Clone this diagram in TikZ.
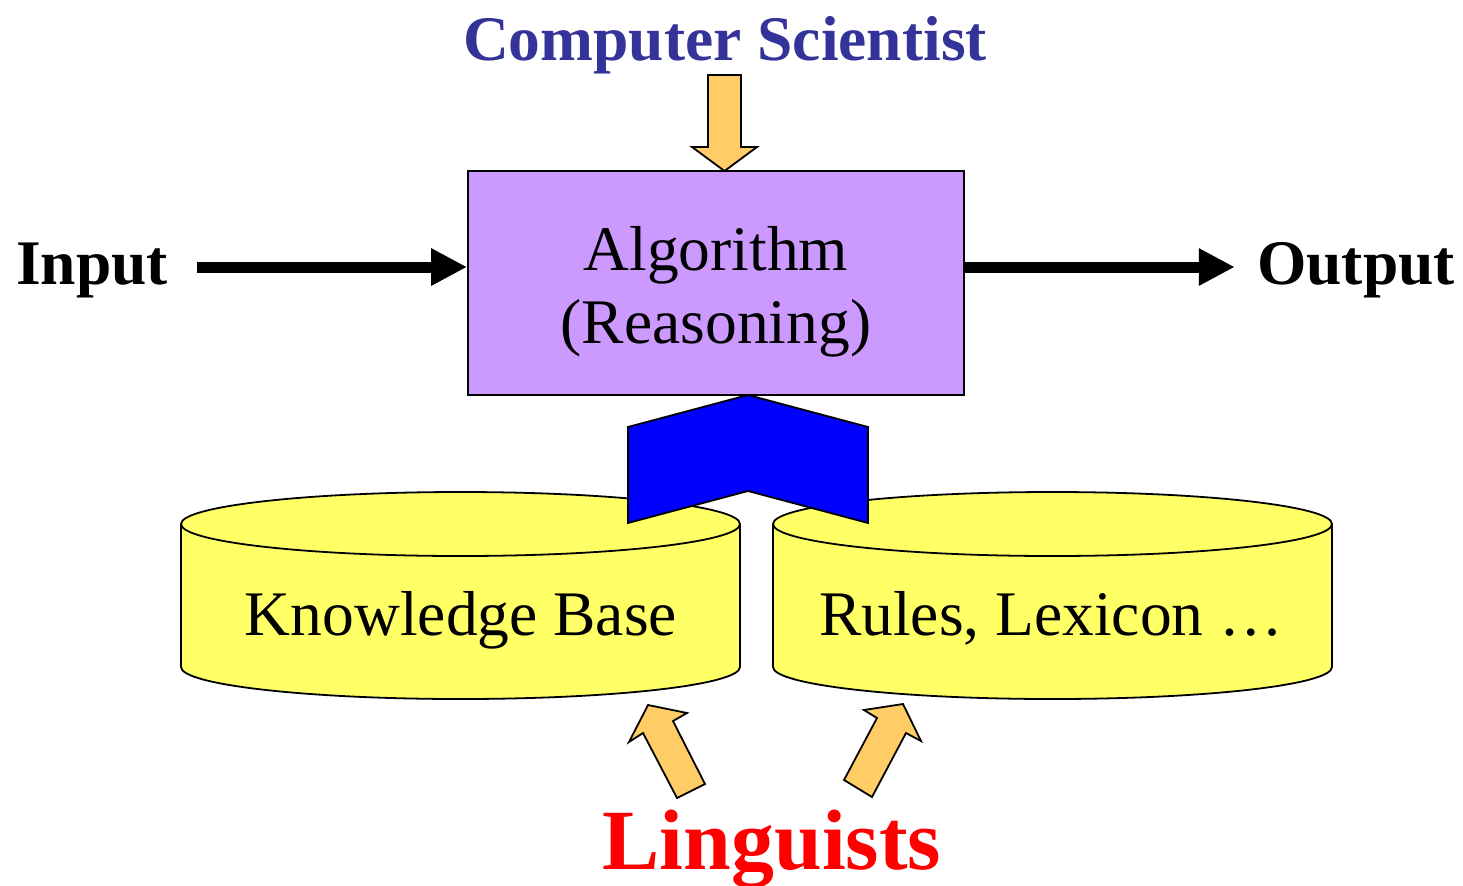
\documentclass[tikz,border=0pt]{standalone}
\usepackage{fontspec}
\setmainfont{Liberation Serif}
\usetikzlibrary{arrows.meta}
\definecolor{algfill}{HTML}{CC99FF}
\definecolor{cylfill}{HTML}{FFFF66}
\definecolor{orangefill}{HTML}{FFCC66}
\definecolor{csblue}{HTML}{333399}
\definecolor{chevblue}{HTML}{0000FF}
\tikzset{
  lbl/.style={font=\fontsize{31.75}{38}\selectfont, inner sep=0pt, anchor=base},
  blbl/.style={lbl, font=\fontsize{31.75}{38}\selectfont\bfseries},
  bigarrow/.style={line width=5.5pt, -{Triangle[length=18pt 0 0,width=17.5pt 0 0]}},
  blockarrow/.style={draw=black, line width=0.9pt, fill=orangefill, line join=miter},
  cyl/.style={draw=black, line width=0.9pt, fill=cylfill},
}
\begin{document}
\begin{tikzpicture}[x=0.5pt,y=-0.5pt]
\useasboundingbox (0,0) rectangle (1463,885);
% cylinders
\foreach \cx in {460.5,1052.5}{
  \path[cyl] (\cx-279.5,524) -- (\cx-279.5,667) arc[start angle=180,end angle=360,x radius=279.5,y radius=-32] -- (\cx+279.5,524) arc[start angle=0,end angle=180,x radius=279.5,y radius=-32] -- cycle;
  \draw[line width=0.9pt] (\cx-279.5,524) arc[start angle=180,end angle=360,x radius=279.5,y radius=-32];
}
\node[lbl] (kb) at (461,635) {Knowledge Base};
\node[lbl] (rl) at (1051,635) {Rules, Lexicon …};
% algorithm box
\node[draw=black, line width=0.9pt, fill=algfill, minimum width=248pt, minimum height=112pt, inner sep=0pt] (alg) at (716,283) {};
\node[lbl] (alg1) at (716,270) {Algorithm};
\node[lbl] (alg2) at (716,343) {(Reasoning)};
% chevron
\draw[line width=0.9pt, fill=chevblue, line join=miter] (628,427) -- (748,395) -- (868,427) -- (868,523) -- (748,491) -- (628,523) -- cycle;
% input / output
\node[blbl] (in) at (92,284) {Input};
\node[blbl] (out) at (1356,284) {Output};
\coordinate (inend) at ([yshift=8pt]alg.west);
\coordinate (outstart) at ([yshift=8pt]alg.east);
\draw[bigarrow] ([xshift=14.5pt]in.east |- inend) -- (inend);
\draw[bigarrow] (outstart) -- ([xshift=-11pt]out.west |- outstart);
% computer scientist
\node[blbl, text=csblue] (cs) at (725,60) {Computer Scientist};
\draw[blockarrow] (708,75) -- (741,75) -- (741,147) -- (757,147) -- (724.5,171) -- (692,147) -- (708,147) -- cycle;
% linguists
\node[lbl, font=\fontsize{42.9}{52}\selectfont\bfseries, text=red] (ling) at (772,869) {Linguists};
\draw[blockarrow] (648,705) -- (687,713) -- (673,721) -- (705,784) -- (677,798) -- (643,733) -- (629,742) -- cycle;
\draw[blockarrow] (903,704) -- (921,741) -- (906,733) -- (872,797) -- (844,780) -- (877,718) -- (864,710) -- cycle;
\end{tikzpicture}
\end{document}
